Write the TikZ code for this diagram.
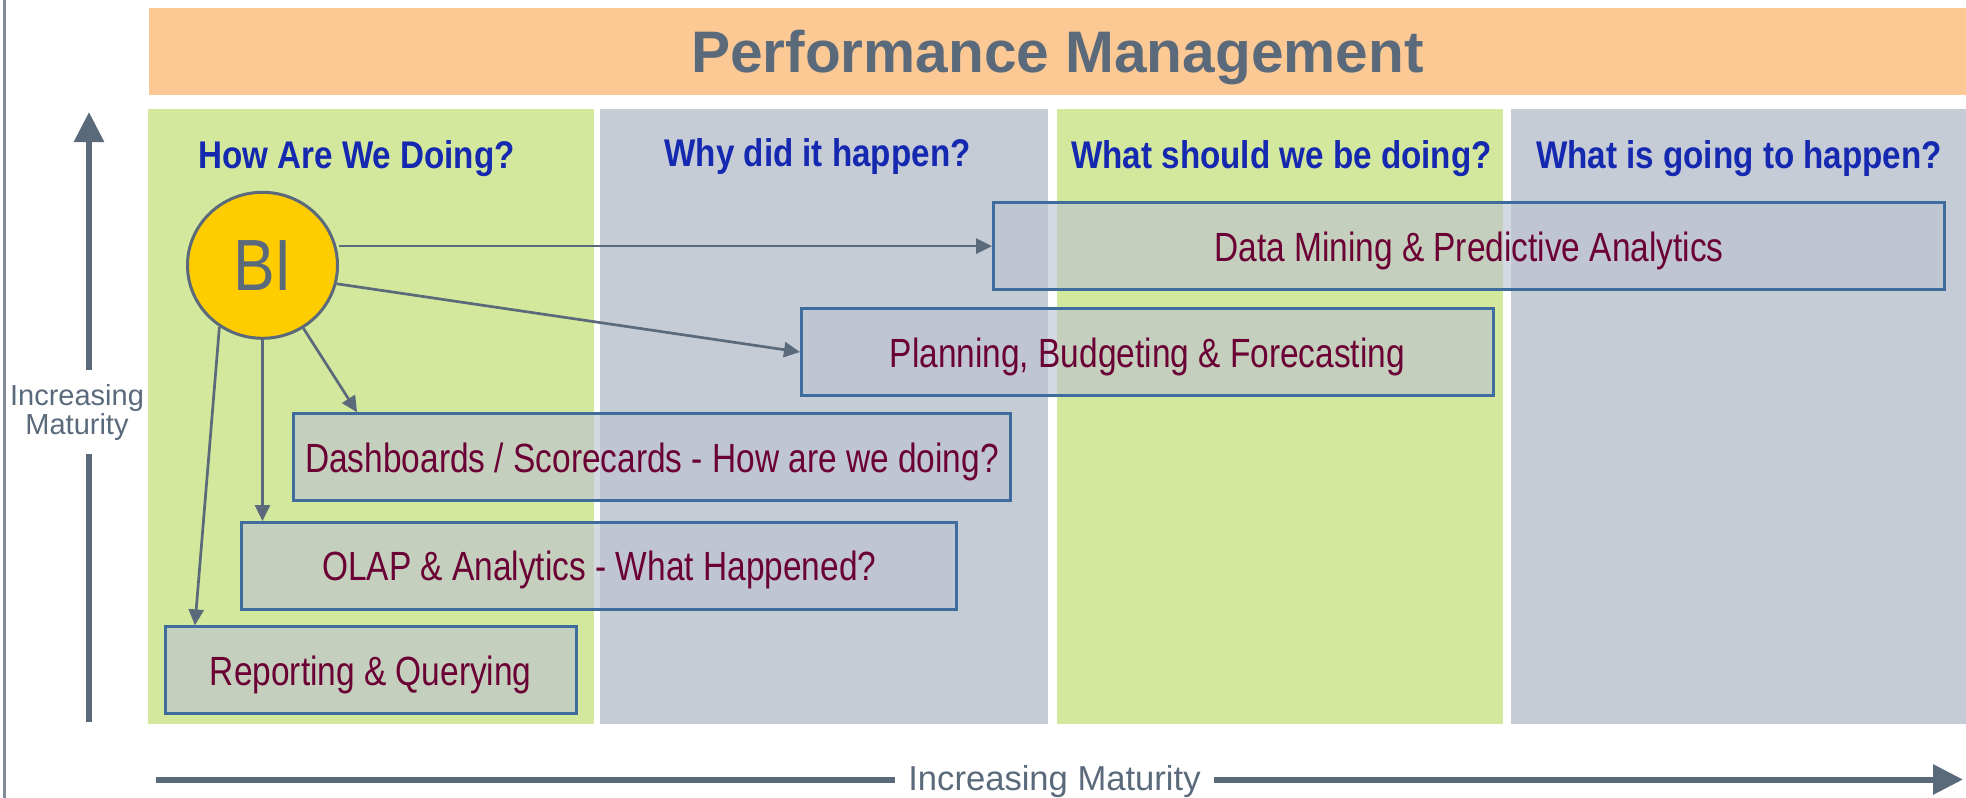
\documentclass[tikz,border=0pt]{standalone}
\usepackage{fontspec}
\setmainfont{Liberation Sans}
\newfontfamily\narrowfont[FakeStretch=0.86]{Liberation Sans}
\newfontfamily\boxfont[FakeStretch=0.82]{Liberation Sans}
\usetikzlibrary{arrows.meta,shapes.geometric}
\definecolor{slate}{HTML}{5A6A7B}
\definecolor{peach}{HTML}{FCC995}
\definecolor{limecol}{HTML}{D3E89C}
\definecolor{greycol}{HTML}{C6CCD6}
\definecolor{boxfill}{HTML}{BCC4CF}
\definecolor{boxline}{HTML}{3E6C9C}
\definecolor{boxtext}{HTML}{6B0035}
\definecolor{headblue}{HTML}{1428B0}
\definecolor{bigold}{HTML}{FFCC00}
\definecolor{edgegrey}{HTML}{808C9A}
\begin{document}
\begin{tikzpicture}[x=0.5pt, y=-0.5pt,
  stage/.style={rectangle, draw=boxline, line width=1.4pt, fill=boxfill, fill opacity=0.65, text opacity=1, text=boxtext, font=\boxfont\fontsize{20.4}{23}\selectfont, minimum height=43.5pt, text height=20pt, text depth=5pt, inner sep=0pt},
  question/.style={anchor=base, text=headblue, font=\narrowfont\bfseries\fontsize{19.3}{22}\selectfont, inner sep=0pt},
  link/.style={draw=slate, line width=1.35pt, -{Triangle[length=8pt,width=7.5pt]}},
  axis/.style={draw=slate, line width=3pt},
  axislabel/.style={text=slate, align=center}]
\useasboundingbox (0,0) rectangle (1966,798);
\draw[edgegrey, line width=1.2pt] (4.5,0) -- (4.5,798);

\node (banner) [rectangle, fill=peach, minimum width=908.5pt, minimum height=43.35pt, inner sep=0pt, text=slate, font=\bfseries\fontsize{29.3}{32}\selectfont, text height=21pt, text depth=0.7pt] at (1057.5,51.7) {Performance Management};

\fill[limecol] (148,109) rectangle (594,724);
\fill[greycol] (600,109) rectangle (1048,724);
\fill[limecol] (1057,109) rectangle (1503,724);
\fill[greycol] (1511,109) rectangle (1966,724);

\node[question] (q1) at (356.5,168) {How Are We Doing?};
\node[question] (q2) at (817.5,166) {Why did it happen?};
\node[question] (q3) at (1281.5,168) {What should we be doing?};
\node[question] (q4) at (1739,168) {What is going to happen?};

\node[stage, minimum width=475.5pt] (dm) at (1469,246.1) {Data Mining \& Predictive Analytics};
\node[stage, minimum width=346pt] (pb) at (1147.4,352) {Planning, Budgeting \& Forecasting};
\node[stage, minimum width=358.5pt] (db) at (652,457.2) {Dashboards / Scorecards - How are we doing?};
\node[stage, minimum width=357.5pt] (ol) at (599.2,565.9) {OLAP \& Analytics - What Happened?};
\node[stage, minimum width=205.5pt] (rq) at (370.8,670.3) {Reporting \& Querying};

\node[ellipse, draw=slate, line width=1.5pt, fill=bigold, minimum width=75pt, minimum height=73pt, inner sep=0pt, text=slate, font=\narrowfont\fontsize{36.3}{40}\selectfont] (bi) at (262.5,265.3) {BI};

\draw[link] (dm.west -| bi.east) -- (dm.west);
\draw[link] (bi.-14) -- (pb.west);
\draw[link] (bi.-57) -- ([xshift=32.5pt]db.north west);
\draw[link] (bi.south) -- (bi.south |- ol.north);
\draw[link] (bi.-125) -- ([xshift=15.5pt]rq.north west);

\coordinate (vtop) at (89,112);
\coordinate (vbot) at (89,722);
\node[axislabel, font=\fontsize{14.5}{14.5}\selectfont, inner ysep=7pt] (vlab) at (77,412) {Increasing\\Maturity};
\draw[axis] (vbot) -- (vbot |- vlab.south);
\draw[axis, -{Triangle[length=15pt,width=14.5pt]}] (vlab.north -| vtop) -- (vtop);

\coordinate (hbeg) at (156,779.5);
\coordinate (hend) at (1963,779.5);
\node[axislabel, anchor=base, font=\fontsize{17.3}{20}\selectfont, inner xsep=6.5pt] (hlab) at (1054.5,790.7) {Increasing Maturity};
\draw[axis] (hbeg) -- (hbeg -| hlab.west);
\draw[axis, -{Triangle[length=15pt,width=14.5pt]}] (hlab.east |- hend) -- (hend);
\end{tikzpicture}
\end{document}
